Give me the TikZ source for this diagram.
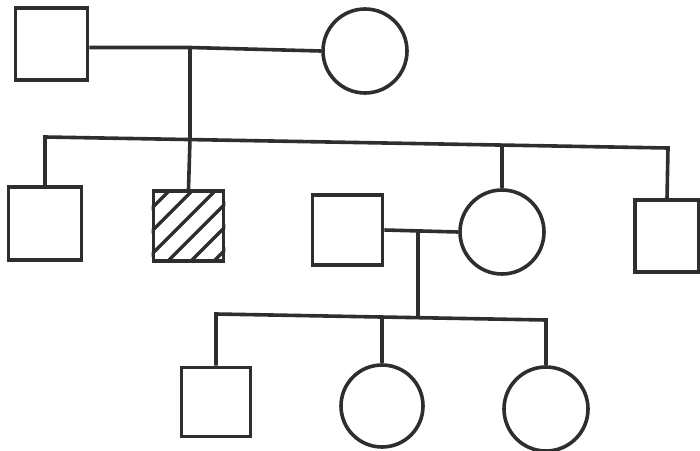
\documentclass[tikz,border=0pt]{standalone}
\definecolor{ink}{HTML}{2E2E2E}
\begin{document}
\begin{tikzpicture}[x=1pt,y=-1pt,
  line width=3.6pt, draw=ink,
  male/.style={draw=ink, line width=3.6pt, rectangle, inner sep=0pt, minimum width=#1, minimum height=#1},
  male/.default=70pt,
  female/.style={draw=ink, line width=3.6pt, circle, inner sep=0pt, minimum size=84pt},
  hatchline/.style={draw=ink, line width=3.2pt},
  link/.style={draw=ink, line width=3.6pt}]
\useasboundingbox (0,0) rectangle (700,450);
% generation I
\node[male=72pt] (gf) at (51.5,44) {};
\node[female] (gm) at (365,51) {};
% generation II
\node[male=73pt] (c1) at (45,223.5) {};
\node[male=70pt] (c2) at (188.5,226) {};
\node[male=70pt] (sp) at (347.5,230) {};
\node[female] (c3) at (502,232) {};
\node[male, minimum width=64pt, minimum height=72pt] (c4) at (667,236) {};
% generation III
\node[male=69pt] (g1) at (216,402) {};
\node[female, minimum size=82pt] (g2) at (382,406) {};
\node[female, minimum size=84pt] (g3) at (546,409) {};
% hatching of the affected individual
\begin{scope}
  \clip (c2.south west) rectangle (c2.north east);
  \foreach \k in {360,383,406,429,452,475} {
    \draw[hatchline] (\k-300,300) -- (\k-100,100);
  }
\end{scope}
% junction coordinates
\coordinate (m1) at (190,47.5);
\coordinate (sL) at (45,137);
\coordinate (s1) at (190,139);
\coordinate (s3) at (502,144.5);
\coordinate (sR) at (668,148);
\coordinate (m2) at (418,232);
\coordinate (tL) at (216,314);
\coordinate (t2) at (382,317.5);
\coordinate (tm) at (418,318);
\coordinate (tR) at (546,320);
% connectors
\draw[link] (gf.east |- m1) -- (m1) -- (gm.west);
\draw[link] (m1) -- (s1);
\draw[link] (c1.north) -- (sL) -- (sR) -- (c4.north);
\draw[link] (s1) -- (c2.north);
\draw[link] (s3) -- (c3.north);
\draw[link] (sp.east) -- (c3.west);
\draw[link] (m2) -- (tm);
\draw[link] (g1.north) -- (tL) -- (tR) -- (g3.north);
\draw[link] (t2) -- (g2.north);
\end{tikzpicture}
\end{document}
